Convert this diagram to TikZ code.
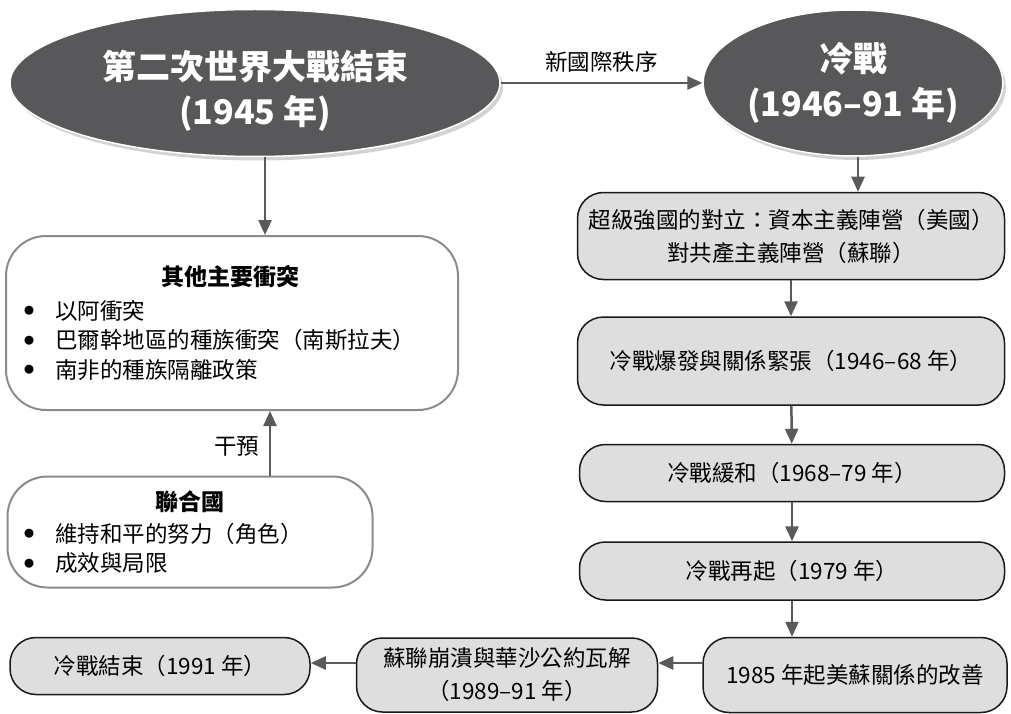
\documentclass[tikz,border=0pt]{standalone}
\usepackage{fontspec}
\setmainfont{Noto Sans CJK TC}
\usepackage{tikz}
\usetikzlibrary{shapes.geometric,arrows.meta,positioning,calc,shadows}

\definecolor{ovalgray}{HTML}{58585A}
\definecolor{stagefill}{HTML}{DDDEDD}
\definecolor{edgegray}{HTML}{8C8C8C}
\definecolor{arrowgray}{HTML}{5A5A5A}

\newcommand{\itemdot}{\makebox[31pt][l]{\raisebox{4.6pt}{\fontsize{10}{10}\selectfont ●}}}

\begin{document}
\begin{tikzpicture}[
    x=1pt, y=-1pt,
    bigoval/.style={ellipse, draw=white, line width=1.5pt, fill=ovalgray, text=white, align=center, inner sep=0pt, font=\fontsize{34}{45}\selectfont\bfseries, drop shadow={shadow xshift=3pt, shadow yshift=-4pt, opacity=0.35}},
    conflictbox/.style={rectangle, draw=edgegray, line width=2pt, fill=white, rounded corners=40pt},
    stagebox/.style={rectangle, draw=black!90, line width=1.5pt, fill=stagefill, rounded corners=26pt, align=center, inner sep=0pt, font=\fontsize{22.5}{33}\selectfont},
    boxtitle/.style={font=\fontsize{23}{29}\selectfont\bfseries, inner sep=0pt},
    itemlist/.style={anchor=north west, align=left, inner sep=0pt, font=\fontsize{22.5}{29.5}\selectfont},
    link/.style={-{Triangle[length=15pt, width=13pt]}, line width=2.5pt, draw=arrowgray},
    linklabel/.style={font=\fontsize{22.5}{27}\selectfont}
]
    \useasboundingbox (0,0) rectangle (1011,714);

    % the two big ovals
    \node[bigoval, minimum width=490pt, minimum height=147pt] (warend) at (255,83) {\raisebox{0pt}[44pt]{}第二次世界大戰結束\\(1945 年)};
    \node[bigoval, minimum width=257pt, minimum height=146pt] (coldwar) at (853,83) {冷戰\\(1946–91 年)};

    % left side
    \node[conflictbox, minimum width=452pt, minimum height=174pt] (conflicts) at (232,323) {};
    \node[boxtitle] (conflictstitle) at (230,277) {其他主要衝突};
    \node[itemlist] (conflictlist) at (24,300) {\itemdot 以阿衝突\\ \itemdot 巴爾幹地區的種族衝突（南斯拉夫）\\ \itemdot 南非的種族隔離政策};

    \node[conflictbox, minimum width=365pt, minimum height=111pt] (un) at (190,532) {};
    \node[boxtitle] (untitle) at (190,502) {聯合國};
    \node[itemlist] (unlist) at (24,523) {\itemdot 維持和平的努力（角色）\\ \itemdot 成效與局限};

    % right column
    \node[stagebox, minimum width=427pt, minimum height=87pt] (rivalry) at (791,236) {超級強國的對立：資本主義陣營（美國）\\對共產主義陣營（蘇聯）};
    \node[stagebox, minimum width=427pt, minimum height=88pt] (tension) at (791,361) {冷戰爆發與關係緊張（1946–68 年）};
    \node[stagebox, minimum width=425pt, minimum height=57pt] (detente) at (792,473) {冷戰緩和（1968–79 年）};
    \node[stagebox, minimum width=425pt, minimum height=58pt] (revival) at (792,571) {冷戰再起（1979 年）};

    % bottom row
    \node[stagebox, minimum width=304pt, minimum height=75pt] (improve) at (855,675) {1985 年起美蘇關係的改善};
    \node[stagebox, minimum width=301pt, minimum height=74pt] (collapse) at (507,675) {蘇聯崩潰與華沙公約瓦解\\（1989–91 年）};
    \node[stagebox, minimum width=300pt, minimum height=57pt] (ended) at (160,666) {冷戰結束（1991 年）};
    \coordinate (row) at (0,663);

    % connectors
    \draw[link] (warend.east) -- node[linklabel, above=6pt] {新國際秩序} (coldwar.west);
    \draw[link] ([xshift=10pt]warend.south) -- ([xshift=10pt]warend.south |- conflicts.north);
    \draw[link] ([xshift=80pt]un.north) -- node[linklabel, left=6pt, pos=0.45] {干預} ([xshift=80pt]un.north |- conflicts.south);
    \draw[link] ([xshift=5pt]coldwar.south) -- ([xshift=5pt]coldwar.south |- rivalry.north);
    \draw[link] (rivalry) -- (tension);
    \draw[link] (tension) -- (detente);
    \draw[link] (detente) -- (revival);
    \draw[link] (revival.south) -- (revival.south |- improve.north);
    \draw[link] (improve.west |- row) -- (collapse.east |- row);
    \draw[link] (collapse.west |- row) -- (ended.east |- row);
\end{tikzpicture}
\end{document}
